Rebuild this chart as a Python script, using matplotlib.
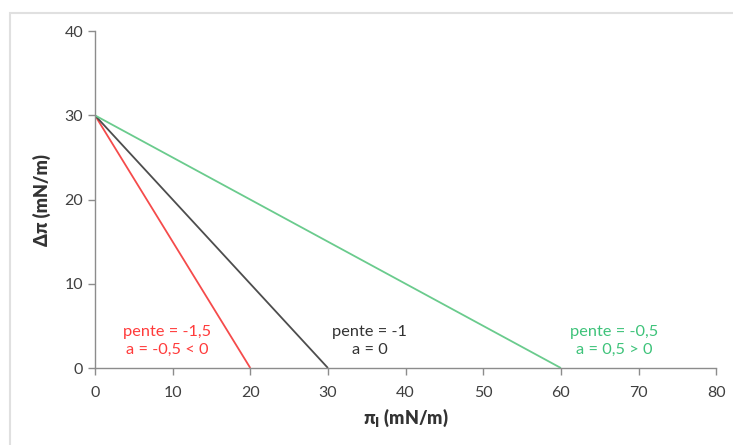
import matplotlib.pyplot as plt
from matplotlib.patches import Rectangle

plt.rcParams['font.family'] = ['Lato', 'DejaVu Sans']

# three straight lines from (0, 30) down to the x axis
x_start = [0, 0, 0]
y_start = [30, 30, 30]
x_end = [20, 30, 60]
y_end = [0, 0, 0]
line_colors = ['#f54b4b', '#4d4d4d', '#6acb8d']

labels = ['pente = -1,5\na = -0,5 < 0', 'pente = -1\na = 0', 'pente = -0,5\na = 0,5 > 0']
label_x = [9.3, 35.4, 66.9]
label_y = [3.2, 3.2, 3.2]
label_colors = ['#ff3b3b', '#333333', '#3ec37a']

x_ticks = [0, 10, 20, 30, 40, 50, 60, 70, 80]
y_ticks = [0, 10, 20, 30, 40]

fig = plt.figure(figsize=(7.33, 4.45), dpi=100)
ax = fig.add_axes([0.1296, 0.173, 0.8475, 0.757])

# light frame around the chart area
fig.patches.append(Rectangle((10 / 733, -0.1), 1.2, 1.1 - 13 / 445,
                             transform=fig.transFigure, fill=False,
                             edgecolor='#e0e0e0', linewidth=1.5))

for i in range(3):
    ax.plot([x_start[i], x_end[i]], [y_start[i], y_end[i]],
            color=line_colors[i], linewidth=1.3, solid_capstyle='butt')
    ax.text(label_x[i], label_y[i], labels[i], color=label_colors[i],
            ha='center', va='center', fontsize=11.8, linespacing=1.3)

ax.set_xlim(0, 80)
ax.set_ylim(0, 40)
ax.set_xticks(x_ticks)
ax.set_yticks(y_ticks)
ax.tick_params(axis='both', colors='#8c8c8c', labelcolor='#404040',
               labelsize=11.5, length=5, width=1, direction='out')
ax.tick_params(axis='x', pad=8)
for side in ['top', 'right']:
    ax.spines[side].set_visible(False)
for side in ['left', 'bottom']:
    ax.spines[side].set_color('#8c8c8c')
    ax.spines[side].set_linewidth(1)

ax.set_xlabel('π$_{\\mathbf{l}}$ (mN/m)', fontsize=13, fontweight='heavy',
              color='#333333', labelpad=5)
ax.set_ylabel('Δπ (mN/m)', fontsize=13, fontweight='heavy',
              color='#333333', labelpad=10)

fig.savefig('out.png', dpi=100)
